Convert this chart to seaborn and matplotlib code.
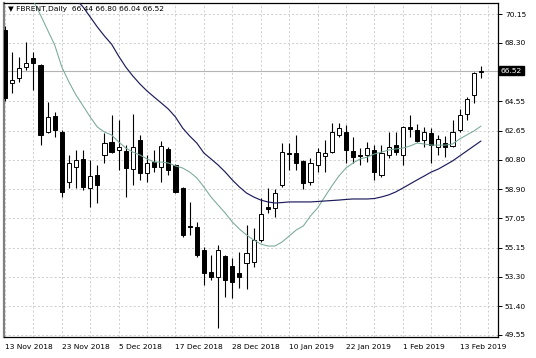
import numpy as np
import pandas as pd
import matplotlib
matplotlib.use("Agg")
import matplotlib.pyplot as plt
import seaborn as sns
from matplotlib.transforms import blended_transform_factory

# ---- data (daily FBRENT candles, 13 Nov 2018 .. 18 Feb 2019) ----
opens = [69.12, 65.72, 66.04, 66.75, 67.33, 66.88, 62.58, 63.60, 62.58, 59.37,
         60.33, 60.85, 58.98, 59.82, 61.10, 61.94, 61.42, 61.36, 60.20, 62.06,
         59.95, 60.65, 60.33, 61.49, 60.46, 58.98, 56.55, 56.48, 55.00, 53.59,
         53.27, 54.62, 53.98, 53.53, 54.17, 54.24, 55.65, 57.76, 57.70, 59.18,
         61.20, 61.23, 60.72, 59.37, 60.46, 61.04, 61.29, 62.39, 62.60, 61.36,
         61.10, 61.10, 61.42, 59.82, 61.10, 61.74, 61.10, 62.90, 62.71, 62.06,
         62.51, 61.62, 61.87, 61.68, 62.71, 63.73, 64.95, 66.44]
highs = [69.40, 67.71, 67.39, 68.35, 67.71, 66.95, 64.50, 63.86, 62.71, 61.10,
         61.42, 61.42, 60.78, 60.46, 62.51, 63.67, 63.35, 61.74, 63.73, 62.39,
         61.10, 61.42, 62.00, 61.62, 60.52, 59.05, 58.09, 56.80, 55.20, 54.68,
         55.33, 54.68, 54.49, 54.88, 56.61, 56.42, 58.34, 58.98, 58.92, 61.87,
         61.87, 62.39, 60.78, 60.91, 61.55, 62.06, 63.16, 63.16, 63.00, 62.26,
         61.55, 61.94, 61.74, 61.74, 62.58, 62.58, 62.96, 63.67, 63.09, 62.90,
         62.84, 62.39, 62.32, 63.35, 64.05, 64.82, 66.43, 66.80]
lows = [64.60, 65.08, 65.79, 66.56, 65.27, 61.74, 62.50, 62.26, 58.41, 58.98,
        58.98, 58.86, 57.76, 58.02, 60.59, 61.23, 60.14, 58.41, 59.18, 59.50,
        59.37, 60.01, 59.37, 59.82, 58.66, 55.84, 55.97, 54.56, 52.76, 53.08,
        50.00, 51.99, 51.93, 52.57, 52.50, 53.91, 55.52, 57.38, 57.12, 59.05,
        60.14, 60.14, 58.92, 59.18, 60.01, 60.01, 61.23, 62.26, 60.59, 60.59,
        60.46, 60.65, 59.50, 59.69, 60.91, 61.10, 60.46, 62.26, 61.94, 61.62,
        60.59, 61.10, 60.97, 61.62, 62.58, 63.35, 64.44, 66.04]
closes = [64.75, 65.91, 66.68, 67.00, 67.01, 62.39, 63.54, 62.71, 58.73, 60.59,
          60.78, 59.05, 59.75, 59.18, 61.87, 61.29, 61.62, 60.27, 61.62, 59.95,
          60.59, 60.33, 61.68, 60.14, 58.73, 55.97, 56.50, 54.68, 53.53, 53.27,
          55.00, 53.08, 52.95, 53.27, 54.81, 55.65, 57.32, 57.63, 58.66, 61.29,
          61.16, 60.59, 59.30, 60.59, 61.29, 61.23, 62.58, 62.84, 61.45, 60.97,
          61.04, 61.55, 60.01, 61.23, 61.62, 61.29, 62.90, 62.77, 62.00, 62.58,
          61.74, 62.13, 61.62, 62.58, 63.67, 64.69, 66.36, 66.52]

# fast moving average (teal line), read per bar
ma_fast = [72.80, 72.00, 71.50, 71.20, 71.00, 70.09, 69.12, 68.16, 66.75, 65.79,
           64.95, 64.25, 63.54, 62.90, 62.58, 62.39, 61.94, 61.55, 61.29, 61.10,
           60.85, 60.65, 60.65, 60.59, 60.40, 60.27, 60.01, 59.63, 59.05, 58.41,
           57.89, 57.38, 56.80, 56.35, 55.97, 55.65, 55.39, 55.26, 55.26, 55.52,
           55.90, 56.29, 56.55, 57.19, 57.70, 58.41, 59.11, 59.75, 60.27, 60.59,
           60.85, 60.97, 61.17, 61.29, 61.42, 61.49, 61.55, 61.68, 61.87, 61.81,
           61.74, 61.74, 61.74, 61.81, 62.13, 62.39, 62.64, 62.96]
# slow moving average (navy line), read per bar
ma_slow = [76.50, 76.00, 75.50, 75.00, 74.40, 73.80, 73.20, 72.60, 72.10, 71.60,
           71.10, 70.60, 69.96, 69.32, 68.74, 68.22, 67.45, 66.75, 66.17, 65.66,
           65.21, 64.82, 64.44, 64.05, 63.54, 62.84, 62.32, 61.87, 61.23, 60.85,
           60.46, 60.01, 59.50, 59.05, 58.66, 58.41, 58.21, 58.09, 58.02, 58.05,
           58.09, 58.09, 58.09, 58.09, 58.12, 58.15, 58.18, 58.21, 58.25, 58.28,
           58.28, 58.28, 58.31, 58.41, 58.54, 58.73, 58.98, 59.24, 59.50, 59.75,
           60.01, 60.20, 60.46, 60.72, 61.04, 61.36, 61.68, 62.00]

x_tick_bars = [0, 8, 16, 24, 32, 40, 48, 56, 64]
x_tick_labels = ["13 Nov 2018", "23 Nov 2018", "5 Dec 2018", "17 Dec 2018",
                 "28 Dec 2018", "10 Jan 2019", "22 Jan 2019", "1 Feb 2019",
                 "13 Feb 2019"]
y_tick_values = [70.15, 68.30, 64.55, 62.65, 60.80, 58.90, 57.05, 55.15,
                 53.30, 51.40, 49.55]
y_tick_labels = ["70.15", "68.30", "64.55", "62.65", "60.80", "58.90", "57.05",
                 "55.15", "53.30", "51.40", "49.55"]
title_text = "\u25BC FBRENT,Daily  66.44 66.80 66.04 66.52"
last_price = 66.52

# ---- drawing ----
sns.set_theme(style="white")
plt.rcParams['font.family'] = ['DejaVu Sans']

W, H = 536, 358
fig = plt.figure(figsize=(W / 100, H / 100), dpi=100)
fig.patch.set_facecolor("white")
ax = fig.add_axes([4 / W, 21 / H, 494 / W, 334 / H])
ax.set_facecolor("white")

df = pd.DataFrame({"bar": np.arange(len(opens)), "open": opens, "high": highs,
                   "low": lows, "close": closes, "fast": ma_fast, "slow": ma_slow})

ax.set_xlim(-0.14, 69.4)
ax.set_ylim(49.42, 70.86)

# grid
grid_kw = dict(color="#c8c8c8", lw=0.6, ls=(0, (2.5, 2.5)))
ax.set_xticks(x_tick_bars)
ax.set_xticks(np.arange(0, 70, 4), minor=True)
ax.set_yticks(y_tick_values)
ax.grid(True, which="both", axis="x", **grid_kw)
ax.grid(True, which="major", axis="y", **grid_kw)
ax.set_axisbelow(True)

# current price line
ax.axhline(last_price, color="#b4b4b4", lw=0.8, zorder=1)

# candles
bw = 0.58
up = df["close"] >= df["open"]
ax.vlines(df["bar"], df["low"], df["high"], color="black", lw=0.8, zorder=3)
bottoms = np.minimum(df["open"], df["close"])
heights = np.maximum(np.abs(df["close"] - df["open"]), 0.02)
ax.bar(df["bar"], heights, bottom=bottoms, width=bw,
       color=np.where(up, "white", "black"), edgecolor="black", linewidth=0.7,
       zorder=4)

# moving averages
sns.lineplot(data=df, x="bar", y="fast", ax=ax, color="#78a89a", lw=0.75,
             zorder=5, legend=False)
sns.lineplot(data=df, x="bar", y="slow", ax=ax, color="#1c1c5c", lw=0.85,
             zorder=5, legend=False)
ax.set_xlabel("")
ax.set_ylabel("")

# axes styling
for side in ["top", "right", "bottom"]:
    ax.spines[side].set_visible(True)
    ax.spines[side].set_color("black")
    ax.spines[side].set_linewidth(0.9)
ax.spines["left"].set_visible(True)
ax.spines["left"].set_color("#808080")
ax.spines["left"].set_linewidth(1.6)

ax.yaxis.tick_right()
ax.set_yticklabels(y_tick_labels)
ax.set_xticklabels(x_tick_labels, ha="left")
ax.tick_params(axis="both", which="major", direction="out", length=3,
               width=0.7, color="black", labelsize=5.4, labelcolor="black")
ax.tick_params(axis="x", which="major", pad=2)
ax.tick_params(axis="y", which="major", pad=2)
ax.tick_params(axis="x", which="minor", length=0)
for lbl in ax.get_xticklabels():
    lbl.set_horizontalalignment("left")

# title
ax.text(0.008, 0.982, title_text, transform=ax.transAxes, fontsize=5.4,
        va="center", ha="left", color="black", zorder=6)

# last price tag
trans = blended_transform_factory(ax.transAxes, ax.transData)
ax.text(1.006, last_price, "66.52", transform=trans, fontsize=5.4,
        color="white", va="center", ha="left",
        bbox=dict(boxstyle="square,pad=0.25", fc="black", ec="black"),
        zorder=7, clip_on=False)

fig.savefig("out.png", dpi=100, facecolor="white")
